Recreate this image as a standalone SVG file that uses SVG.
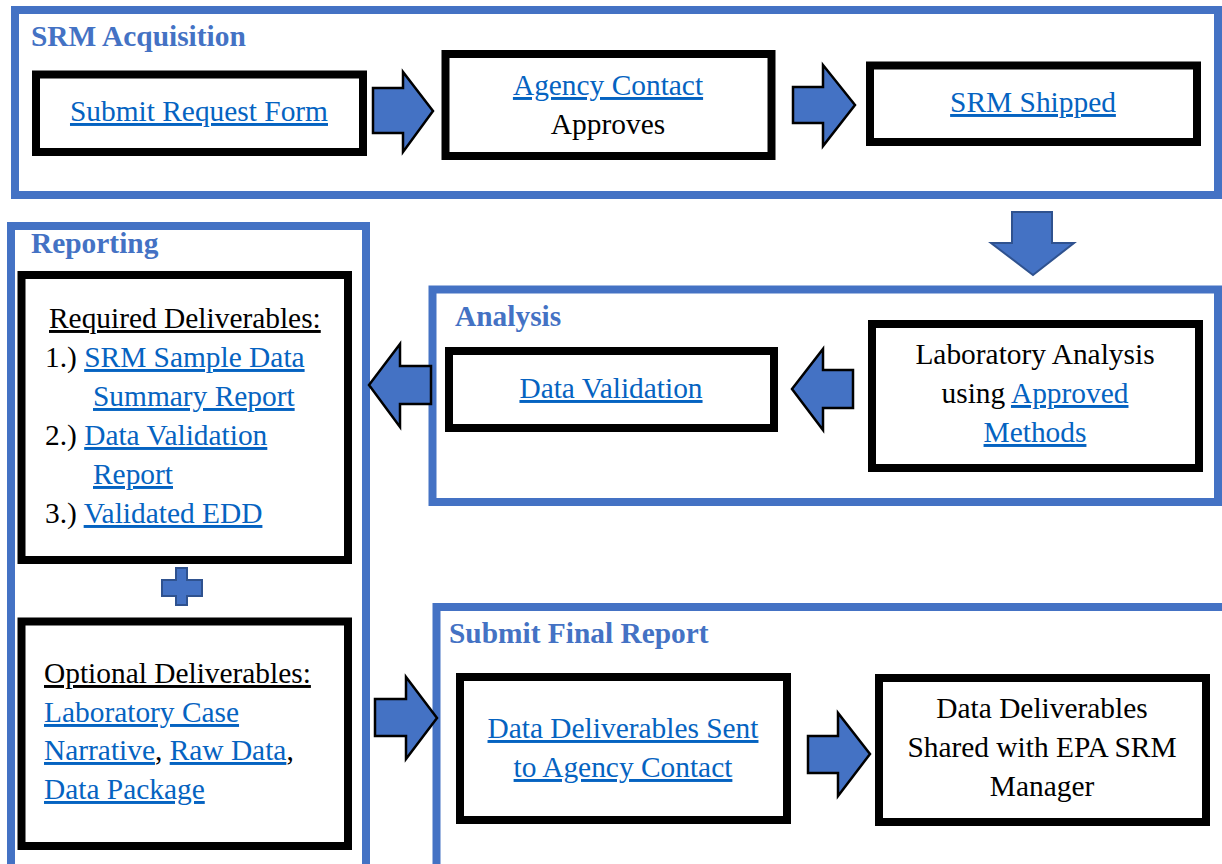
<svg xmlns="http://www.w3.org/2000/svg" width="1222" height="864" viewBox="0 0 1222 864">
<style>
.container{fill:none;stroke:#4472C4;stroke-width:8}
.box{fill:#fff;stroke:#000;stroke-width:8}
.title{font-family:"Liberation Serif","Times New Roman",serif;font-size:29.4px;font-weight:bold;fill:#4472C4}
.t{font-family:"Liberation Serif","Times New Roman",serif;font-size:29.4px;fill:#000}
.link{fill:#0563C1;text-decoration:underline}
.ul{text-decoration:underline}
.arrow{fill:#4472C4;stroke:#000;stroke-width:2.5;stroke-linejoin:miter}
.arrow2{fill:#4472C4;stroke:#2F528F;stroke-width:2}
</style>
<rect width="1222" height="864" fill="#fff"/>

<g id="srm-acquisition">
<rect class="container" x="15" y="10" width="1203" height="185"/>
<text class="title" x="31" y="46">SRM Acquisition</text>
</g>
<g id="submit-request-form">
<rect class="box" x="36" y="74.5" width="327" height="77.5"/>
<text class="t" x="199" y="121" text-anchor="middle"><tspan class="link">Submit Request Form</tspan></text>
</g>
<g id="agency-contact-approves">
<rect class="box" x="445.5" y="54" width="326" height="102"/>
<text class="t" x="608" y="95" text-anchor="middle"><tspan class="link">Agency Contact</tspan></text>
<text class="t" x="608" y="134" text-anchor="middle">Approves</text>
</g>
<g id="srm-shipped">
<rect class="box" x="870" y="65.5" width="327" height="76.5"/>
<text class="t" x="1033" y="112" text-anchor="middle"><tspan class="link">SRM Shipped</tspan></text>
</g>

<g id="analysis">
<rect class="container" x="432.5" y="289.5" width="785.5" height="212.5"/>
<text class="title" x="455" y="326">Analysis</text>
</g>
<g id="data-validation">
<rect class="box" x="449" y="351" width="325" height="77"/>
<text class="t" x="611" y="398" text-anchor="middle"><tspan class="link">Data Validation</tspan></text>
</g>
<g id="laboratory-analysis">
<rect class="box" x="872" y="324" width="327" height="144"/>
<text class="t" x="1035" y="364" text-anchor="middle">Laboratory Analysis</text>
<text class="t" x="1035" y="403" text-anchor="middle">using <tspan class="link">Approved</tspan></text>
<text class="t" x="1035" y="442" text-anchor="middle"><tspan class="link">Methods</tspan></text>
</g>

<g id="reporting">
<rect class="container" x="11" y="226" width="355" height="660"/>
<text class="title" x="31" y="253">Reporting</text>
</g>
<g id="required-deliverables">
<rect class="box" x="21.5" y="275" width="326.5" height="285"/>
<text class="t" x="49" y="328"><tspan class="ul">Required Deliverables:</tspan></text>
<text class="t" x="45" y="367">1.) <tspan class="link">SRM Sample Data</tspan></text>
<text class="t" x="93" y="406"><tspan class="link">Summary Report</tspan></text>
<text class="t" x="45" y="445">2.) <tspan class="link">Data Validation</tspan></text>
<text class="t" x="93" y="484"><tspan class="link">Report</tspan></text>
<text class="t" x="45" y="523">3.) <tspan class="link">Validated EDD</tspan></text>
</g>
<g id="optional-deliverables">
<rect class="box" x="21.5" y="621.5" width="326.5" height="224.5"/>
<text class="t" x="44" y="683"><tspan class="ul">Optional Deliverables:</tspan></text>
<text class="t" x="44" y="722"><tspan class="link">Laboratory Case</tspan></text>
<text class="t" x="44" y="760"><tspan class="link">Narrative</tspan>, <tspan class="link">Raw Data</tspan>,</text>
<text class="t" x="44" y="799"><tspan class="link">Data Package</tspan></text>
</g>

<g id="submit-final-report">
<rect class="container" x="436.5" y="607" width="800" height="280"/>
<text class="title" x="449" y="643">Submit Final Report</text>
</g>
<g id="data-deliverables-sent">
<rect class="box" x="460" y="677" width="327" height="143"/>
<text class="t" x="623" y="738" text-anchor="middle"><tspan class="link">Data Deliverables Sent</tspan></text>
<text class="t" x="623" y="777" text-anchor="middle"><tspan class="link">to Agency Contact</tspan></text>
</g>
<g id="data-deliverables-shared">
<rect class="box" x="879" y="678" width="327" height="144"/>
<text class="t" x="1042" y="718" text-anchor="middle">Data Deliverables</text>
<text class="t" x="1042" y="757" text-anchor="middle">Shared with EPA SRM</text>
<text class="t" x="1042" y="796" text-anchor="middle">Manager</text>
</g>

<g id="connectors">
<polygon class="arrow" points="373,88 403,88 403,72 433,111 403,152 403,133 373,133"/>
<polygon class="arrow" points="793,87 823,87 823,65 855,105 823,146 823,123 793,123"/>
<polygon class="arrow2" points="1012,212 1052,212 1052,243 1074,243 1033,275 991,243 1012,243"/>
<polygon class="arrow" points="853,370 823,370 823,349 792,389 823,430 823,408 853,408"/>
<polygon class="arrow" points="431,366 400,366 400,344 369,385 400,427 400,404 431,404"/>
<polygon class="arrow" points="375,699 406,699 406,677 437,718 406,759 406,736 375,736"/>
<polygon class="arrow" points="808,736 838,736 838,713 870,754 838,796 838,773 808,773"/>
<polygon class="arrow2" points="176,568 187,568 187,580 202,580 202,596 187,596 187,605 176,605 176,596 162,596 162,580 176,580"/>
</g>
</svg>
